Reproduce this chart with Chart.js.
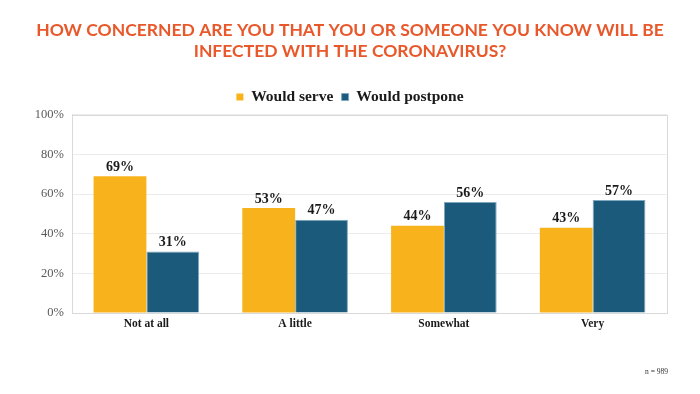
<!DOCTYPE html>
<html><head><meta charset="utf-8">
<script src="https://cdn.jsdelivr.net/npm/chart.js@4/dist/chart.umd.min.js"></script>
<style>
html,body{margin:0;padding:0;background:#fff;}
#wrap{position:relative;width:700px;height:394px;}
#note{position:absolute;left:645px;top:367px;font:7.5px "Liberation Serif",serif;color:#333;}
</style></head>
<body>
<div id="wrap"><canvas id="c" width="700" height="394"></canvas><div id="note">n = 989</div></div>
<script>
const categories = ["Not at all", "A little", "Somewhat", "Very"];
const wouldServe = [69, 53, 44, 43];
const wouldPostpone = [31, 47, 56, 57];
const yTicks = [0, 20, 40, 60, 80, 100];
const titleLines = ["HOW CONCERNED ARE YOU THAT YOU OR SOMEONE YOU KNOW WILL BE", "INFECTED WITH THE CORONAVIRUS?"];

const serif = '"Liberation Serif", "DejaVu Serif", serif';

const labelPlugin = {
  id: 'labels',
  afterDatasetsDraw(chart) {
    const ctx = chart.ctx;
    ctx.save();
    ctx.font = 'bold 14px ' + serif;
    ctx.fillStyle = '#1a1a1a';
    ctx.textAlign = 'center';
    ctx.textBaseline = 'bottom';
    chart.data.datasets.forEach((ds, i) => {
      chart.getDatasetMeta(i).data.forEach((bar, j) => {
        ctx.fillText(ds.data[j] + '%', bar.x, bar.y - 2);
      });
    });
    ctx.restore();
  }
};
const boxPlugin = {
  id: 'box',
  beforeDatasetsDraw(chart) {
    const a = chart.chartArea, ctx = chart.ctx;
    ctx.save();
    ctx.strokeStyle = '#d9d9d9';
    ctx.lineWidth = 1;
    ctx.strokeRect(Math.round(a.left) + 0.5, Math.round(a.top) + 0.5, Math.round(a.right - a.left), Math.round(a.bottom - a.top));
    ctx.restore();
  }
};

new Chart(document.getElementById('c'), {
  type: 'bar',
  data: {
    labels: categories,
    datasets: [
      { label: 'Would serve', data: wouldServe, backgroundColor: '#F8B31C', categoryPercentage: 0.71, barPercentage: 1.0 },
      { label: 'Would postpone', data: wouldPostpone, backgroundColor: '#1B5A7B', borderColor: '#7fa7c0', borderWidth: 1, categoryPercentage: 0.71, barPercentage: 1.0 }
    ]
  },
  options: {
    responsive: false,
    animation: false,
    layout: { padding: { left: 0, right: 0, top: 0, bottom: 51 } },
    plugins: {
      title: {
        display: true,
        text: titleLines,
        color: '#E8582B',
        font: { family: 'Lato, "Open Sans", sans-serif', size: 17.5, weight: 'bold', lineHeight: 1.2 },
        padding: { top: 19.5, bottom: 19.5 }
      },
      legend: {
        display: true,
        position: 'top',
        labels: {
          boxWidth: 7, boxHeight: 7, padding: 8.25,
          color: '#1a1a1a',
          font: { family: serif, size: 15.5, weight: 'bold' }
        }
      },
      tooltip: { enabled: false }
    },
    scales: {
      x: {
        grid: { display: false, drawTicks: false },
        border: { display: true, color: '#bfbfbf' },
        ticks: { color: '#1a1a1a', font: { family: serif, size: 11.5, weight: 'bold' }, padding: 4 },
        afterFit(s) { s.height = 30; }
      },
      y: {
        min: 0, max: 100,
        afterBuildTicks(s) { s.ticks = yTicks.map(v => ({ value: v })); },
        ticks: { color: '#595959', font: { family: serif, size: 12.5 }, padding: 8, callback: v => v + '%' },
        grid: { color: '#ececec', drawTicks: false },
        border: { display: true, color: '#d9d9d9' },
        afterFit(s) { s.width = 72; }
      },
      yRight: {
        position: 'right',
        min: 0, max: 100,
        grid: { display: false, drawTicks: false },
        border: { display: false },
        ticks: { display: false },
        afterFit(s) { s.width = 33; }
      }
    }
  },
  plugins: [boxPlugin, labelPlugin]
});
</script>
</body></html>
